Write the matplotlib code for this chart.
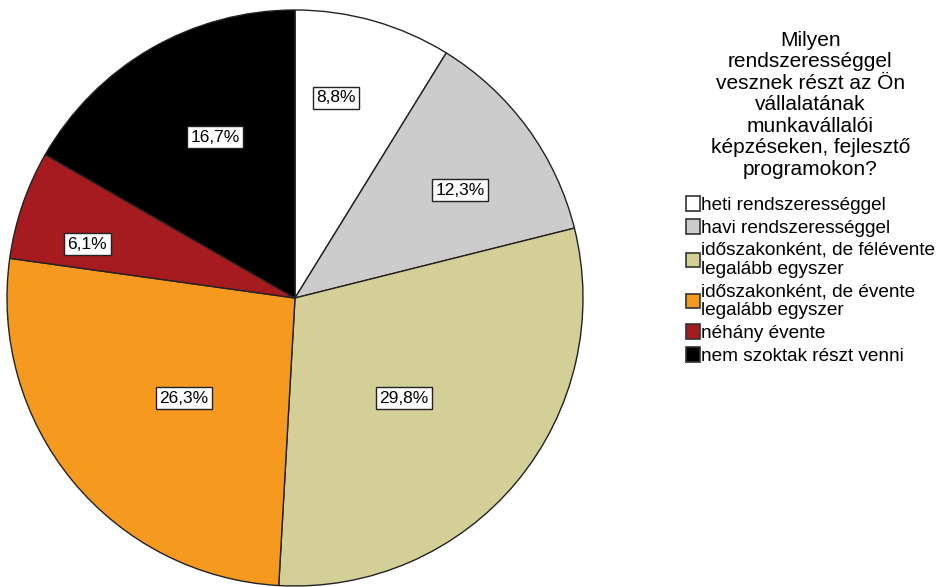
import matplotlib.pyplot as plt
from matplotlib.patches import Patch
import numpy as np

plt.rcParams["font.family"] = ["Liberation Sans", "DejaVu Sans"]

# answers, in drawing order (clockwise from 12 o'clock)
categories = [
    "heti rendszerességgel",
    "havi rendszerességgel",
    "időszakonként, de félévente\nlegalább egyszer",
    "időszakonként, de évente\nlegalább egyszer",
    "néhány évente",
    "nem szoktak részt venni",
]
shares = [8.8, 12.3, 29.8, 26.3, 6.1, 16.7]
title = "Milyen\nrendszerességgel\nvesznek részt az Ön\nvállalatának\nmunkavállalói\nképzéseken, fejlesztő\nprogramokon?"

colors = ["#ffffff", "#cccccc", "#d3cf97", "#f5991f", "#a51b1f", "#000000"]
# where each % box sits: fraction of radius, and angle nudge off the wedge middle (deg)
label_radius = [0.71, 0.685, 0.514, 0.52, 0.745, 0.624]
label_nudge = [4.2, -3.0, -2.9, 2.7, 4.4, -3.6]

fig = plt.figure(figsize=(9.36, 5.87), dpi=100)
# square axes so the pie is a circle of ~288px radius centred at (295, 298)
ax = fig.add_axes([7 / 936, 1 / 587, 576 / 936, 576 / 587])
wedges, _ = ax.pie(
    shares,
    startangle=90,
    counterclock=False,
    colors=colors,
    wedgeprops=dict(edgecolor="#222222", linewidth=1.0),
)
ax.set_xlim(-1, 1)
ax.set_ylim(-1, 1)

for w, v, r, nudge in zip(wedges, shares, label_radius, label_nudge):
    ang = np.deg2rad((w.theta1 + w.theta2) / 2 + nudge)
    ax.text(
        r * np.cos(ang),
        r * np.sin(ang),
        f"{v:.1f}%".replace(".", ","),
        ha="center",
        va="center",
        fontsize=12.5,
        bbox=dict(boxstyle="square,pad=0.2", fc="white", ec="#222222", lw=1),
    )

handles = [Patch(facecolor=c, edgecolor="#333333", linewidth=1.2) for c in colors]
leg = fig.legend(
    handles,
    categories,
    title=title,
    loc="upper left",
    bbox_to_anchor=(676 / 936, 1 - 21 / 587),
    frameon=False,
    fontsize=13.7,
    title_fontsize=15,
    handlelength=0.75,
    handleheight=0.8,
    handletextpad=0.08,
    labelspacing=0.26,
    borderpad=0,
    alignment="center",
)
leg.get_title().set_linespacing(1.17)
leg.get_title().set_multialignment("center")
for t in leg.get_texts():
    t.set_linespacing(1.17)
# a bit more room between the question and the entries
leg._legend_box.sep += 9

fig.savefig("out.png", dpi=100)
